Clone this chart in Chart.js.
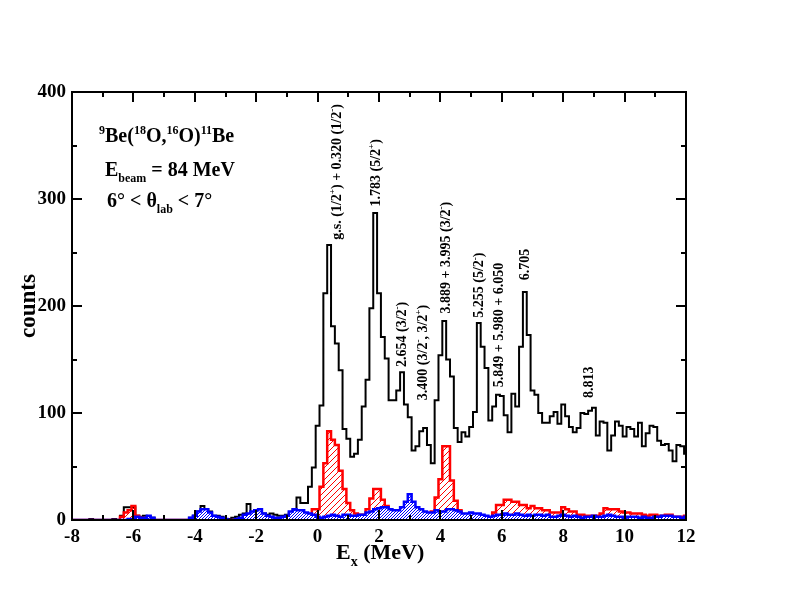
<!DOCTYPE html>
<html><head><meta charset="utf-8">
<script src="https://cdn.jsdelivr.net/npm/chart.js@4.4.1/dist/chart.umd.min.js"></script>
<style>html,body{margin:0;padding:0;background:#fff}</style>
</head><body>
<canvas id="c" width="792" height="612"></canvas>
<script>
// ---- data ----
const binStart = -8;      // centre of first bin (MeV)
const binWidth = 0.125;   // MeV
const totalCounts = [
0,0,0,0,0,1,0,0,0,0,
0,1,0,4,12,12,12,4,3,4,
3,2,0,0,0,0,0,0,0,0,
0,2,4,8,13,10,8,4,4,3,
1,1,2,3,5,6,15,7,9,9,
6,5,6,5,4,4,5,7,10,21,
16,16,31,49,88,107,212,257,181,165,
140,85,76,59,62,75,106,131,198,287,
212,171,151,112,112,121,138,108,96,65,
69,83,86,70,53,112,154,186,150,134,
86,73,82,78,87,101,184,162,142,93,
106,117,116,98,82,118,106,162,213,173,
121,117,100,91,91,97,101,90,108,97,
87,82,86,100,99,102,105,79,92,91,
65,79,92,88,78,87,85,78,91,69,
81,88,87,74,70,71,65,55,70,69,
62];
const redCounts = [
0,0,0,0,0,0,0,0,0,0,
0,0,0,3,7,9,13,4,2,0,
0,0,0,0,0,0,0,0,0,0,
0,0,0,0,0,0,0,0,0,0,
0,0,0,0,0,0,0,0,0,0,
0,0,0,0,0,0,0,0,0,0,
0,3,4,10,10,31,53,83,75,70,
46,29,16,9,6,5,5,10,20,29,
29,19,13,0,0,0,0,0,0,0,
0,0,0,0,8,21,38,69,69,37,
18,9,0,0,0,0,0,0,0,0,
7,14,14,19,19,17,17,14,14,11,
13,11,11,9,9,7,7,7,12,10,
8,8,5,5,4,4,4,4,6,11,
10,10,10,8,7,7,6,6,6,5,
4,5,5,4,4,5,5,3,3,3,
4];
const blueCounts = [
0,0,0,0,0,0,0,0,0,0,
0,0,0,0,0,1,1,3,2,2,
4,2,0,0,0,0,0,0,0,0,
0,2,4,8,10,10,7,4,3,2,
1,0,0,1,2,5,6,8,9,10,
6,4,3,2,2,3,4,8,10,9,
9,7,6,5,3,2,3,4,5,4,
3,5,5,4,4,5,5,7,8,10,
11,12,12,10,9,9,12,17,24,17,
12,10,8,7,7,9,8,8,10,10,
9,8,6,6,7,6,6,5,4,3,
4,5,5,6,5,5,6,5,4,5,
4,5,5,4,5,3,3,4,5,4,
3,4,3,2,3,3,4,3,3,4,
5,4,3,3,2,3,3,3,2,3,
2,2,3,3,4,4,4,3,3,2,
3];
const xTickLabels = [-8,-6,-4,-2,0,2,4,6,8,10,12];
const yTickLabels = [0,100,200,300,400];
// level labels: [text segments, energy anchor (MeV), count anchor]
const levelLabels = [
  [[['g.s. (1/2',0],['+',1],[') + 0.320 (1/2',0],['-',1],[')',0]], 0.77, 262],
  [[['1.783 (5/2',0],['+',1],[')',0]], 2.04, 293],
  [[['2.654 (3/2',0],['-',1],[')',0]], 2.89, 143],
  [[['3.400 (3/2',0],['-',1],[', 3/2',0],['+',1],[')',0]], 3.57, 112],
  [[['3.889 + 3.995 (3/2',0],['-',1],[')',0]], 4.32, 193],
  [[['5.255 (5/2',0],['-',1],[')',0]], 5.40, 189],
  [[['5.849 + 5.980 + 6.050',0]], 6.05, 124],
  [[['6.705',0]], 6.90, 224],
  [[['8.813',0]], 8.98, 114]
];

// ---- build ----
const pts = arr => arr.map((v,i)=>({x: binStart + i*binWidth, y: v}));
const FAM = '"Liberation Serif", "Times New Roman", serif';

function hatchPattern(){
  const c = document.createElement('canvas'); c.width = 6; c.height = 6;
  const g = c.getContext('2d');
  g.strokeStyle = '#ff0000'; g.lineWidth = 1;
  g.beginPath();
  g.moveTo(-1,7); g.lineTo(7,-1);
  g.moveTo(-1,1); g.lineTo(1,-1);
  g.moveTo(5,7); g.lineTo(7,5);
  g.stroke();
  return g.createPattern(c,'repeat');
}
function dotPattern(){
  const c = document.createElement('canvas'); c.width = 3; c.height = 3;
  const g = c.getContext('2d');
  g.fillStyle = '#ffffff'; g.fillRect(0,0,3,3);
  g.fillStyle = '#0000ff';
  g.fillRect(0,0,1,1); g.fillRect(2,1,1,1); g.fillRect(1,2,1,1);
  return g.createPattern(c,'repeat');
}

function drawRich(ctx, segs, x, y, size, weight){
  let cx = x;
  for (const [t,k] of segs){
    const s = k ? Math.round(size*0.62) : size;
    ctx.font = `${weight} ${s}px ${FAM}`;
    const dy = k===1 ? -size*0.42 : (k===-1 ? size*0.3 : 0);
    ctx.fillText(t, cx, y+dy);
    cx += ctx.measureText(t).width;
  }
}

const decor = {
  id: 'decor',
  afterDraw(chart){
    const ctx = chart.ctx, a = chart.chartArea;
    const xs = chart.scales.x, ys = chart.scales.y;
    ctx.save();
    ctx.strokeStyle = '#000'; ctx.lineWidth = 2;
    // ticks inward on all sides
    ctx.beginPath();
    for (let v=-7; v<=11; v++){
      const px = Math.round(xs.getPixelForValue(v));
      const len = (v%2===0) ? 10 : 5;
      ctx.moveTo(px, a.bottom); ctx.lineTo(px, a.bottom-len);
      ctx.moveTo(px, a.top); ctx.lineTo(px, a.top+len);
    }
    for (let v=50; v<400; v+=50){
      const py = Math.round(ys.getPixelForValue(v));
      const len = (v%100===0) ? 10 : 5;
      ctx.moveTo(a.left, py); ctx.lineTo(a.left+len, py);
      ctx.moveTo(a.right, py); ctx.lineTo(a.right-len, py);
    }
    ctx.stroke();
    ctx.strokeRect(a.left, a.top, a.right-a.left, a.bottom-a.top);

    ctx.fillStyle = '#000'; ctx.textBaseline = 'alphabetic'; ctx.textAlign = 'left';
    // reaction text
    drawRich(ctx, [['9',1],['Be(',0],['18',1],['O,',0],['16',1],['O)',0],['11',1],['Be',0]], 99, 142, 20, 'bold');
    drawRich(ctx, [['E',0],['beam',-1],[' = 84 MeV',0]], 105, 176, 20, 'bold');
    drawRich(ctx, [['6° < θ',0],['lab',-1],[' < 7°',0]], 107, 207, 20, 'bold');

    // level labels, rotated
    for (const [segs, e, cnt] of levelLabels){
      const px = xs.getPixelForValue(e), py = ys.getPixelForValue(cnt);
      ctx.save(); ctx.translate(px, py); ctx.rotate(-Math.PI/2);
      drawRich(ctx, segs, 0, 0, 14, 'bold');
      ctx.restore();
    }

    // axis titles
    ctx.save(); ctx.translate(35, 306); ctx.rotate(-Math.PI/2);
    ctx.font = `bold 23px ${FAM}`; ctx.textAlign = 'center';
    ctx.fillText('counts', 0, 0);
    ctx.restore();
    ctx.textAlign = 'left';
    drawRich(ctx, [['E',0],['x',-1],[' (MeV)',0]], 336, 559, 22, 'bold');
    ctx.restore();
  }
};

new Chart(document.getElementById('c'), {
  type: 'line',
  data: {
    datasets: [
      { data: pts(blueCounts), borderColor: '#0000ff', borderWidth: 2.5,
        backgroundColor: dotPattern(), fill: 'origin', stepped: 'middle', pointRadius: 0 },
      { data: pts(redCounts), borderColor: '#ff0000', borderWidth: 2.5,
        backgroundColor: hatchPattern(), fill: 'origin', stepped: 'middle', pointRadius: 0 },
      { data: pts(totalCounts), borderColor: '#000000', borderWidth: 2,
        fill: false, stepped: 'middle', pointRadius: 0 }
    ]
  },
  options: {
    responsive: false, animation: false, devicePixelRatio: 1,
    layout: { padding: { left: 0, right: 106, top: 92, bottom: 0 } },
    plugins: { legend: { display: false }, tooltip: { enabled: false } },
    scales: {
      x: {
        type: 'linear', min: -8, max: 12,
        afterFit(s){ s.height = 92; },
        afterBuildTicks(s){ s.ticks = xTickLabels.map(v=>({value:v})); },
        grid: { display: false, drawTicks: false }, border: { display: false },
        ticks: { padding: 6, color: '#000', maxRotation: 0, autoSkip: false,
                 font: { family: FAM, size: 19, weight: 'bold' } }
      },
      y: {
        type: 'linear', min: 0, max: 400,
        afterFit(s){ s.width = 72; },
        afterBuildTicks(s){ s.ticks = yTickLabels.map(v=>({value:v})); },
        grid: { display: false, drawTicks: false }, border: { display: false },
        ticks: { padding: 6, color: '#000', autoSkip: false,
                 font: { family: FAM, size: 19, weight: 'bold' } }
      }
    }
  },
  plugins: [decor]
});
</script>
</body></html>
